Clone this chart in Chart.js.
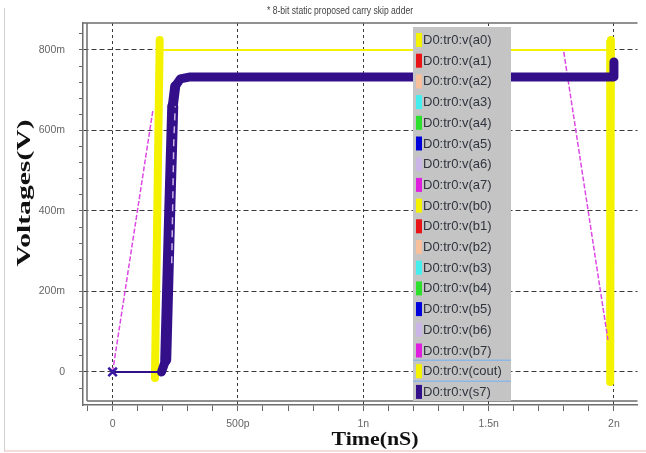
<!DOCTYPE html>
<html>
<head>
<meta charset="utf-8">
<script src="https://cdn.jsdelivr.net/npm/chart.js@4.4.1/dist/chart.umd.min.js"></script>
<style>
    html, body { margin: 0; padding: 0; background: #fff; }
    #wrap { position: relative; width: 646px; height: 453px; }
    #edge { position: absolute; left: 4px; top: 8px; width: 641px; height: 442px; border-left: 1px solid #d0d0d0; border-bottom: 2px solid #f4dcdc; pointer-events: none; }
</style>
</head>
<body>
<div id="wrap"><canvas id="myChart" width="646" height="453"></canvas><div id="edge"></div></div>
<script>
// legend entries, in the order of the waveform viewer list
var seriesKeys = ['a0', 'a1', 'a2', 'a3', 'a4', 'a5', 'a6', 'a7',
                  'b0', 'b1', 'b2', 'b3', 'b4', 'b5', 'b6', 'b7', 'cout', 's7'];
var seriesColors = ['#f5f200', '#e81418', '#f7bf9c', '#44eeee', '#2ee02e', '#0000dc', '#c9b6e6', '#e01ee0',
                    '#f5f200', '#e81418', '#f7bf9c', '#44eeee', '#2ee02e', '#0000dc', '#c9b6e6', '#e01ee0', '#f5f200', '#33108a'];

// time in ns, voltage in V (null = gap)
var a0Time = [0.16, 0.178, 0.19, 1.99, 1.995];
var a0Volt = [0, 0.80, 0.80, 0.80, -0.02];

var coutTime = [0.169, 0.188, 1.0, 1.988, 1.985];
var coutVolt = [-0.015, 0.825, null, 0.825, -0.025];

var b7Time = [0, 0.161, 1.0, 1.80, 1.976];
var b7Volt = [0, 0.651, null, 0.795, 0.08];

var a6Time = [0.236, 0.244, 0.25];
var a6Volt = [0.27, 0.57, 0.66];

var s7Time = [0, 0.195, 0.212, 0.228, 0.24, 0.25, 0.27, 0.31, 1.997, 2.0];
var s7Volt = [0, 0, 0.03, 0.40, 0.66, 0.71, 0.728, 0.733, 0.733, 0.77];
var s7SegmentWidth = [2, 9, 11, 11, 10, 9, 9, 9, 9];

// axes
var xTickValues = [-0.1, 0, 0.1, 0.2, 0.3, 0.4, 0.5, 0.6, 0.7, 0.8, 0.9, 1, 1.1, 1.2, 1.3, 1.4, 1.5, 1.6, 1.7, 1.8, 1.9, 2];
var xMajorValues = [0, 0.5, 1, 1.5, 2];
var xMajorLabels = ['0', '500p', '1n', '1.5n', '2n'];
var yTickValues = [-0.04, 0, 0.04, 0.08, 0.12, 0.16, 0.2, 0.24, 0.28, 0.32, 0.36, 0.4, 0.44, 0.48, 0.52, 0.56, 0.6, 0.64, 0.68, 0.72, 0.76, 0.8, 0.84];
var yMajorValues = [0, 0.2, 0.4, 0.6, 0.8];
var yMajorLabels = ['0', '200m', '400m', '600m', '800m'];

var chartTitle = '* 8-bit static proposed carry skip adder';
var xTitle = 'Time(nS)';
var yTitle = 'Voltages(V)';

var sans = "'Liberation Sans', Arial, sans-serif";
var serif = "'Liberation Serif', 'Times New Roman', serif";

function pts(t, v) {
    return t.map(function (x, i) { return { x: x, y: v[i] }; });
}

var seriesData = {
    a0: pts(a0Time, a0Volt),
    a6: pts(a6Time, a6Volt),
    b7: pts(b7Time, b7Volt),
    cout: pts(coutTime, coutVolt),
    s7: pts(s7Time, s7Volt)
};

var datasets = seriesKeys.map(function (key, i) {
    var ds = {
        label: 'D0:tr0:v(' + key + ')',
        data: seriesData[key] || [],
        borderColor: seriesColors[i],
        backgroundColor: seriesColors[i],
        borderWidth: 1.5,
        pointRadius: 0,
        fill: false,
        spanGaps: false
    };
    if (key === 'a0') ds.borderWidth = 2;
    if (key === 'a6') { ds.borderDash = [7, 6]; ds.borderWidth = 1.5; ds.order = -2; }
    if (key === 'b7') { ds.borderWidth = 1.5; ds.borderColor = '#dc48e4'; ds.borderDash = [5, 2]; }
    if (key === 'cout') { ds.borderWidth = 8; ds.borderCapStyle = 'round'; }
    if (key === 's7') {
        ds.borderWidth = 9;
        ds.borderCapStyle = 'round';
        ds.borderJoinStyle = 'round';
        ds.order = -1;
        ds.segment = { borderWidth: function (c) { return s7SegmentWidth[c.p0DataIndex]; } };
        ds.pointStyle = 'crossRot';
        ds.pointRadius = function (c) { return c.dataIndex === 0 ? 6 : 0; };
        ds.pointBorderWidth = 2.5;
        ds.pointBorderColor = '#3a1aa0';
    }
    return ds;
});

function fitText(ctx, text, x, y, width, rotate) {
    ctx.save();
    ctx.translate(x, y);
    if (rotate) ctx.rotate(-Math.PI / 2);
    var m = ctx.measureText(text).width;
    ctx.scale(width / m, 1);
    ctx.fillText(text, 0, 0);
    ctx.restore();
}

// inner frame lines next to the axis lines
var framePlugin = {
    id: 'frame',
    beforeDatasetsDraw: function (chart) {
        var a = chart.chartArea, ctx = chart.ctx;
        ctx.save();
        ctx.setLineDash([]);
        ctx.strokeStyle = '#6e6e6e';
        ctx.lineWidth = 1.5;
        ctx.beginPath();
        ctx.moveTo(a.left, a.top); ctx.lineTo(a.right, a.top);
        ctx.moveTo(a.left + 4, a.top); ctx.lineTo(a.left + 4, a.bottom - 4);
        ctx.moveTo(a.left + 4, a.bottom - 4); ctx.lineTo(a.right, a.bottom - 4);
        ctx.stroke();
        ctx.restore();
    }
};

var textPlugin = {
    id: 'texts',
    afterDraw: function (chart) {
        var ctx = chart.ctx;
        ctx.save();
        ctx.textAlign = 'center';
        ctx.textBaseline = 'middle';
        ctx.fillStyle = '#444';
        ctx.font = '10px ' + sans;
        fitText(ctx, chartTitle, 340, 11, 146, false);
        ctx.fillStyle = '#111';
        ctx.font = 'bold 19px ' + serif;
        fitText(ctx, xTitle, 375, 440, 87, false);
        fitText(ctx, yTitle, 25, 193, 147, true);
        ctx.restore();
    }
};

var legendPlugin = {
    id: 'legendBox',
    afterDraw: function (chart) {
        var ctx = chart.ctx;
        var left = 413, top = 27, w = 98, bottom = 401, rowH = 20.7;
        ctx.save();
        ctx.fillStyle = '#c4c4c4';
        ctx.fillRect(left, top, w, bottom - top);
        ctx.font = '13px ' + sans;
        ctx.textAlign = 'left';
        ctx.textBaseline = 'middle';
        chart.data.datasets.forEach(function (d, i) {
            var cy = top + 13 + i * rowH;
            if (seriesKeys[i] === 'cout') {
                ctx.strokeStyle = '#8db6e4';
                ctx.lineWidth = 1.5;
                ctx.beginPath();
                ctx.moveTo(left, cy - 11); ctx.lineTo(left + w, cy - 11);
                ctx.moveTo(left, cy + 10); ctx.lineTo(left + w, cy + 10);
                ctx.stroke();
            }
            ctx.fillStyle = seriesColors[i];
            ctx.fillRect(left + 3, cy - 7, 6, 14);
            ctx.fillStyle = '#30343e';
            ctx.fillText(d.label, left + 10, cy + 0.5);
        });
        ctx.restore();
    }
};

document.addEventListener('DOMContentLoaded', function () {
    var ctx = document.getElementById('myChart').getContext('2d');
    new Chart(ctx, {
        type: 'line',
        data: { datasets: datasets },
        options: {
            responsive: false,
            animation: false,
            devicePixelRatio: 1,
            layout: { padding: { top: 23, left: 0, right: 0, bottom: 0 } },
            plugins: {
                legend: { display: false },
                title: { display: false },
                tooltip: { enabled: false }
            },
            scales: {
                x: {
                    type: 'linear',
                    min: -0.118,
                    max: 2.094,
                    afterBuildTicks: function (scale) {
                        scale.ticks = xTickValues.map(function (v) { return { value: v }; });
                    },
                    afterFit: function (scale) { scale.height = 48; },
                    ticks: {
                        autoSkip: false,
                        maxRotation: 0,
                        color: '#666',
                        font: { size: 10.5, family: sans },
                        padding: 7,
                        callback: function (value) {
                            var i = xMajorValues.indexOf(value);
                            return i >= 0 ? xMajorLabels[i] : '';
                        }
                    },
                    grid: {
                        color: function (c) {
                            return c.tick && xMajorValues.indexOf(c.tick.value) >= 0 ? '#3a3a3a' : 'rgba(0,0,0,0)';
                        },
                        borderDash: [3, 3],
                        lineWidth: 1,
                        tickColor: '#666',
                        tickLength: 6
                    },
                    border: { display: true, color: '#6e6e6e', width: 1.5, dash: [3, 3] }
                },
                y: {
                    type: 'linear',
                    min: -0.082,
                    max: 0.867,
                    afterBuildTicks: function (scale) {
                        scale.ticks = yTickValues.map(function (v) { return { value: v }; });
                    },
                    afterFit: function (scale) { scale.width = 83; },
                    ticks: {
                        autoSkip: false,
                        color: '#666',
                        font: { size: 10.5, family: sans },
                        padding: 14,
                        callback: function (value) {
                            var i = yMajorValues.indexOf(value);
                            return i >= 0 ? yMajorLabels[i] : '';
                        }
                    },
                    grid: {
                        color: function (c) {
                            return c.tick && yMajorValues.indexOf(c.tick.value) >= 0 ? '#3a3a3a' : 'rgba(0,0,0,0)';
                        },
                        borderDash: [5, 3],
                        lineWidth: 1,
                        tickColor: '#666',
                        tickLength: 4
                    },
                    border: { display: true, color: '#6e6e6e', width: 1.5, dash: [5, 3] }
                }
            }
        },
        plugins: [framePlugin, textPlugin, legendPlugin]
    });
});
</script>
</body>
</html>
